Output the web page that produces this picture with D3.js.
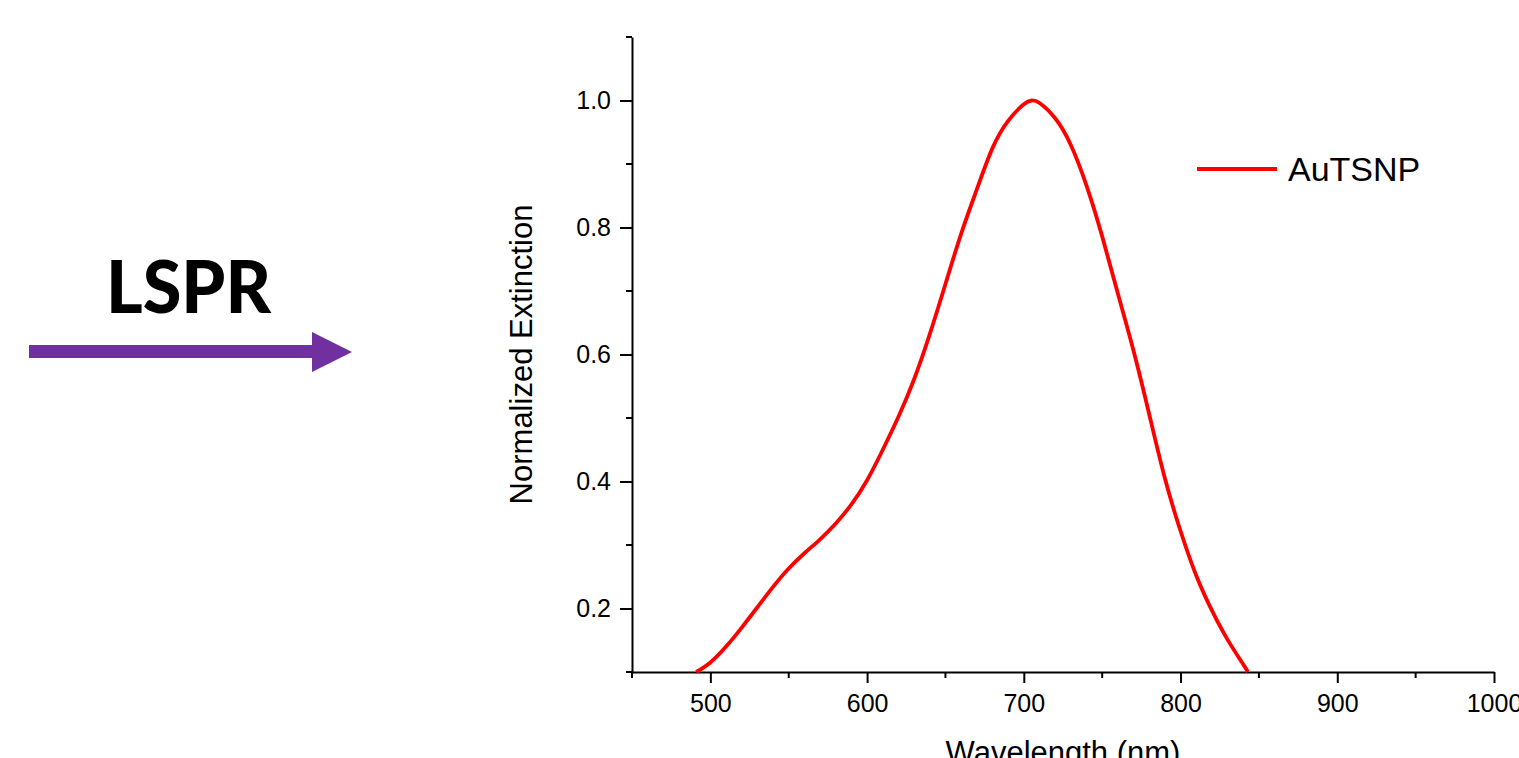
<!DOCTYPE html>
<html>
<head>
<meta charset="utf-8">
<script src="https://cdn.jsdelivr.net/npm/d3@7"></script>
<style>
  html, body { margin: 0; padding: 0; background: #fff; overflow: hidden; }
  svg { display: block; }
  text { font-family: "Liberation Sans", Arial, sans-serif; }
</style>
</head>
<body>
<svg id="chart" width="1519" height="758"></svg>
<script>
// ---- data ----
const wavelengths = [491, 500, 510, 520, 530, 540, 550, 560, 570, 580, 590, 600, 610, 620, 630, 640, 650, 660, 670, 680, 690, 700, 705, 710, 720, 730, 740, 750, 760, 770, 780, 790, 800, 810, 820, 830, 840, 843];
const extinction  = [0.100, 0.115, 0.140, 0.170, 0.202, 0.234, 0.263, 0.287, 0.309, 0.334, 0.364, 0.402, 0.450, 0.502, 0.561, 0.632, 0.711, 0.790, 0.860, 0.925, 0.968, 0.994, 1.000, 0.996, 0.972, 0.930, 0.866, 0.786, 0.696, 0.606, 0.506, 0.405, 0.322, 0.252, 0.197, 0.151, 0.112, 0.100];
const xMajorTicks = [500, 600, 700, 800, 900, 1000];
const xMinorTicks = [450, 550, 650, 750, 850, 950];
const yMajorTicks = [0.2, 0.4, 0.6, 0.8, 1.0];
const yMinorTicks = [0.1, 0.3, 0.5, 0.7, 0.9, 1.1];
const seriesName = "AuTSNP";
const xTitle = "Wavelength (nm)";
const yTitle = "Normalized Extinction";
const sideLabel = "LSPR";

const svg = d3.select("#chart");

// ---- scales ----
const x = d3.scaleLinear().domain([450, 1000]).range([632, 1494]);
const y = d3.scaleLinear().domain([0.1, 1.1]).range([672, 37]);

// ---- LSPR label + arrow ----
svg.append("text")
  .attr("x", 106).attr("y", 313)
  .attr("textLength", 165).attr("lengthAdjust", "spacingAndGlyphs")
  .style("font-family", "Lato, 'DejaVu Sans', sans-serif")
  .style("font-weight", 900)
  .style("font-size", "73px")
  .attr("fill", "#000")
  .text(sideLabel);

svg.append("rect")
  .attr("x", 29).attr("y", 345).attr("width", 284).attr("height", 13)
  .attr("fill", "#7030A0");
svg.append("path")
  .attr("d", "M312,332 L352,352 L312,372 Z")
  .attr("fill", "#7030A0");

// ---- axes ----
const fontSize = "25px";

const yAxis = svg.append("g")
  .attr("transform", `translate(${x.range()[0]},0)`)
  .call(d3.axisLeft(y).tickValues(yMajorTicks).tickFormat(d3.format(".1f")).tickSize(12).tickSizeOuter(0).tickPadding(9));
yAxis.select(".domain").attr("stroke", "#000").attr("stroke-width", 2);
yAxis.selectAll(".tick line").attr("stroke", "#000").attr("stroke-width", 2);
yAxis.selectAll(".tick text").style("font-size", fontSize).attr("fill", "#000");
yAxis.selectAll(".minor").data(yMinorTicks).enter().append("line")
  .attr("class", "minor")
  .attr("x1", 0).attr("x2", -6)
  .attr("y1", d => y(d)).attr("y2", d => y(d))
  .attr("stroke", "#000").attr("stroke-width", 2);

const xAxis = svg.append("g")
  .attr("transform", `translate(0,${y.range()[0]})`)
  .call(d3.axisBottom(x).tickValues(xMajorTicks).tickFormat(d3.format("d")).tickSize(11).tickSizeOuter(0).tickPadding(11));
xAxis.select(".domain").attr("stroke", "#000").attr("stroke-width", 2);
xAxis.selectAll(".tick line").attr("stroke", "#000").attr("stroke-width", 2);
xAxis.selectAll(".tick text").style("font-size", fontSize).attr("fill", "#000");
xAxis.selectAll(".minor").data(xMinorTicks).enter().append("line")
  .attr("class", "minor")
  .attr("y1", 0).attr("y2", 6)
  .attr("x1", d => x(d)).attr("x2", d => x(d))
  .attr("stroke", "#000").attr("stroke-width", 2);

// ---- axis titles ----
svg.append("text")
  .attr("transform", `translate(532,${(y.range()[0] + y.range()[1]) / 2}) rotate(-90)`)
  .attr("text-anchor", "middle")
  .style("font-size", "31px")
  .attr("fill", "#000")
  .text(yTitle);

svg.append("text")
  .attr("x", (x.range()[0] + x.range()[1]) / 2)
  .attr("y", 763)
  .attr("text-anchor", "middle")
  .style("font-size", "31px")
  .attr("fill", "#000")
  .text(xTitle);

// ---- curve ----
const pts = wavelengths.map((w, i) => [w, extinction[i]]);
const line = d3.line()
  .x(d => x(d[0]))
  .y(d => y(d[1]))
  .curve(d3.curveNatural);
svg.append("path")
  .datum(pts)
  .attr("d", line)
  .attr("fill", "none")
  .attr("stroke", "#ff0000")
  .attr("stroke-width", 3.8)
  .attr("stroke-linejoin", "round");

// ---- legend ----
const lg = svg.append("g").attr("transform", "translate(1197,169)");
lg.append("line").attr("x1", 0).attr("x2", 80).attr("y1", 0).attr("y2", 0)
  .attr("stroke", "#ff0000").attr("stroke-width", 3.8);
lg.append("text").attr("x", 91).attr("y", 12)
  .style("font-size", "34px").attr("fill", "#000")
  .text(seriesName);
</script>
</body>
</html>
